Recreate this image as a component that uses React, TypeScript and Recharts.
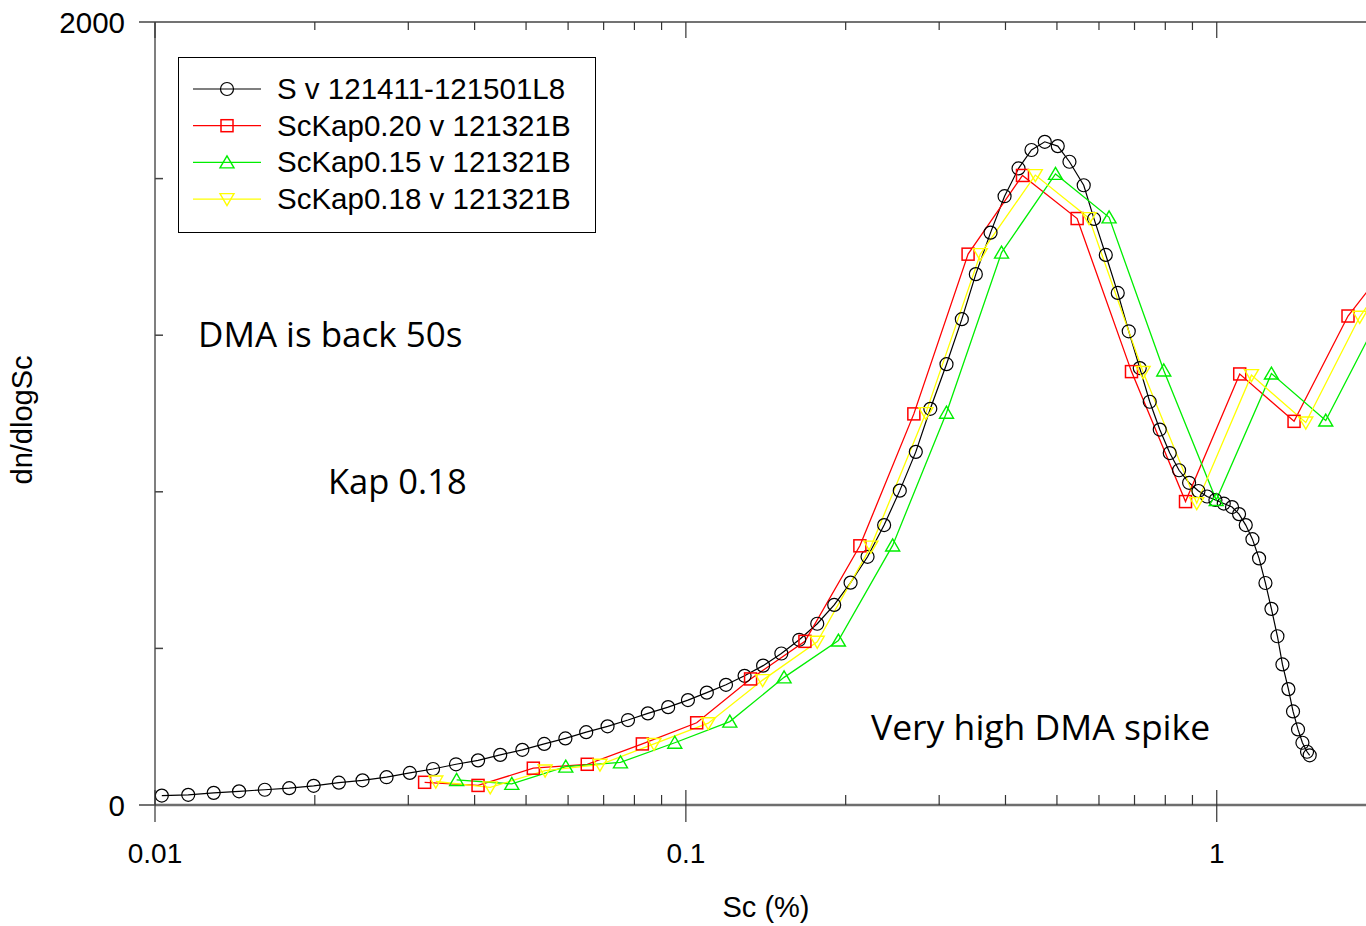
import { LineChart, Line, XAxis, YAxis, Legend, Customized } from 'recharts';

const S_X = [0.0103, 0.01155, 0.0129, 0.0144, 0.0161, 0.0179, 0.0199, 0.0222, 0.0246, 0.0273, 0.0302, 0.0334, 0.0369, 0.0406, 0.0447, 0.0492, 0.0541, 0.0593, 0.0649, 0.0712, 0.0778, 0.0848, 0.0926, 0.1009, 0.1095, 0.119, 0.129, 0.1398, 0.1513, 0.1635, 0.1768, 0.1903, 0.2043, 0.2199, 0.2363, 0.2529, 0.2711, 0.2887, 0.3097, 0.331, 0.3517, 0.3749, 0.3984, 0.4233, 0.4477, 0.4743, 0.5018, 0.5279, 0.5616, 0.5873, 0.618, 0.6509, 0.6827, 0.7161, 0.7478, 0.781, 0.8156, 0.8492, 0.887, 0.9238, 0.9588, 0.9943, 1.0309, 1.0686, 1.1016, 1.1341, 1.1674, 1.2015, 1.2352, 1.2677, 1.3011, 1.3296, 1.3646, 1.3922, 1.4227, 1.4501, 1.4794, 1.4966];
const S_Y = [24, 26, 31, 35, 39, 43, 49, 57, 63, 71, 82, 92, 104, 114, 128, 141, 156, 170, 186, 201, 217, 234, 250, 268, 287, 307, 330, 356, 387, 422, 463, 511, 568, 634, 715, 803, 902, 1012, 1126, 1241, 1356, 1462, 1555, 1626, 1673, 1694, 1683, 1643, 1583, 1497, 1405, 1308, 1210, 1116, 1030, 959, 899, 855, 823, 802, 788, 779, 770, 761, 743, 715, 679, 630, 567, 501, 431, 359, 296, 239, 193, 159, 136, 127];

const K20_X = [0.0322, 0.0406, 0.0516, 0.0652, 0.0828, 0.1048, 0.1324, 0.1676, 0.2127, 0.2688, 0.3401, 0.4306, 0.5458, 0.6909, 0.8733, 1.1048, 1.3984, 1.7671, 2.2356];
const K20_Y = [58, 50, 94, 104, 156, 210, 322, 418, 662, 999, 1407, 1608, 1498, 1107, 775, 1101, 980, 1249, 1426];

const K15_X = [0.037, 0.047, 0.0594, 0.0753, 0.0953, 0.121, 0.1531, 0.1938, 0.2452, 0.3097, 0.3932, 0.4969, 0.6269, 0.7947, 0.9978, 1.2677, 1.6044, 2.03];
const K15_Y = [64, 54, 98, 109, 159, 213, 326, 420, 663, 1002, 1411, 1612, 1501, 1110, 779, 1102, 982, 1250];

const K18_X = [0.0338, 0.0428, 0.0543, 0.0689, 0.0871, 0.1102, 0.1395, 0.1768, 0.2231, 0.2831, 0.3586, 0.4552, 0.5747, 0.7265, 0.9169, 1.1625, 1.4714, 1.8591, 2.3496];
const K18_Y = [60, 45, 88, 103, 156, 209, 319, 417, 660, 1001, 1407, 1609, 1499, 1106, 771, 1098, 977, 1247, 1443];

const SERIES_NAMES = ['S v 121411-121501L8', 'ScKap0.20 v 121321B', 'ScKap0.15 v 121321B', 'ScKap0.18 v 121321B'];

const X_MAJOR = [0.01, 0.1, 1];
const X_MAJOR_LABELS = ['0.01', '0.1', '1'];
const X_MINOR = [0.02, 0.03, 0.04, 0.05, 0.06, 0.07, 0.08, 0.09, 0.2, 0.3, 0.4, 0.5, 0.6, 0.7, 0.8, 0.9, 2];
const Y_TICKS = [0, 400, 800, 1200, 1600, 2000];
const Y_LABELED = [0, 2000];

const zip = (xs: number[], ys: number[]) => xs.map((x, i) => ({ x, y: ys[i] }));
const sData = zip(S_X, S_Y);
const k20Data = zip(K20_X, K20_Y);
const k15Data = zip(K15_X, K15_Y);
const k18Data = zip(K18_X, K18_Y);

const ARIAL = '"Liberation Sans", Arial, sans-serif';
const CALIBRI = '"Open Sans", "Noto Sans", sans-serif';

type Shape = 'circle' | 'square' | 'up' | 'down';

function marker(shape: Shape, cx: number, cy: number, color: string, key?: string) {
  if (shape === 'circle')
    return <circle key={key} cx={cx} cy={cy} r={6.5} fill="none" stroke={color} strokeWidth={1.2} />;
  if (shape === 'square')
    return <rect key={key} x={cx - 6} y={cy - 6} width={12} height={12} fill="none" stroke={color} strokeWidth={1.5} />;
  if (shape === 'up')
    return <polygon key={key} points={`${cx},${cy - 6.5} ${cx - 7},${cy + 5.5} ${cx + 7},${cy + 5.5}`} fill="none" stroke={color} strokeWidth={1.4} />;
  return <polygon key={key} points={`${cx - 7},${cy - 5.5} ${cx + 7},${cy - 5.5} ${cx},${cy + 6.5}`} fill="none" stroke={color} strokeWidth={1.4} />;
}

const dotFor = (shape: Shape, color: string) => (p: any) => {
  if (p.cx == null || p.cy == null) return <g key={`n-${p.index}`} />;
  return marker(shape, p.cx, p.cy, color, `${shape}-${p.index}`);
};

const LEGEND_ITEMS: { shape: Shape; color: string }[] = [
  { shape: 'circle', color: '#000000' },
  { shape: 'square', color: '#ff0000' },
  { shape: 'up', color: '#00ee00' },
  { shape: 'down', color: '#ffff00' },
];

function LegendBox() {
  return (
    <div style={{ width: 418, height: 176, border: '1.5px solid #000', boxSizing: 'border-box', background: '#fff' }}>
      <svg width={416} height={174}>
        {LEGEND_ITEMS.map((it, i) => {
          const y = 31 + i * 36.7;
          return (
            <g key={i}>
              <line x1={14} x2={82} y1={y} y2={y} stroke={it.color} strokeWidth={1.2} />
              {marker(it.shape, 48, y, it.color)}
              <text x={98} y={y + 10} fontFamily={ARIAL} fontSize={29.5} fill="#000">{SERIES_NAMES[i]}</text>
            </g>
          );
        })}
      </svg>
    </div>
  );
}

function BottomTick(props: any) {
  const { x, y, payload } = props;
  const idx = X_MAJOR.indexOf(payload.value);
  if (idx >= 0) {
    return (
      <g>
        <line x1={x} x2={x} y1={y - 15} y2={y + 17} stroke="#333" strokeWidth={1.2} />
        <text x={x} y={y + 58} textAnchor="middle" fontFamily={ARIAL} fontSize={28} fill="#000">{X_MAJOR_LABELS[idx]}</text>
      </g>
    );
  }
  return <line x1={x} x2={x} y1={y - 10} y2={y} stroke="#333" strokeWidth={1.2} />;
}

function TopTick(props: any) {
  const { x, y, payload } = props;
  const major = X_MAJOR.includes(payload.value);
  return <line x1={x} x2={x} y1={y} y2={y + (major ? 16 : 8)} stroke="#333" strokeWidth={1.2} />;
}

function LeftTick(props: any) {
  const { x, y, payload } = props;
  if (Y_LABELED.includes(payload.value)) {
    return (
      <g>
        <line x1={x - 16} x2={x} y1={y} y2={y} stroke="#444" strokeWidth={1.5} />
        <text x={x - 30} y={y + 11} textAnchor="end" fontFamily={ARIAL} fontSize={29.5} fill="#000">{payload.value}</text>
      </g>
    );
  }
  return <line x1={x} x2={x + 8} y1={y} y2={y} stroke="#444" strokeWidth={1.5} />;
}

function Notes() {
  return (
    <g>
      <text x={32} y={420} transform="rotate(-90, 32, 420)" textAnchor="middle" fontFamily={ARIAL} fontSize={29} fill="#000">dn/dlogSc</text>
      <text x={766} y={917} textAnchor="middle" fontFamily={ARIAL} fontSize={29} fill="#000">Sc (%)</text>
      <text x={198} y={347} fontFamily={CALIBRI} fontSize={35} fill="#000">DMA is back 50s</text>
      <text x={328} y={494} fontFamily={CALIBRI} fontSize={34.5} fill="#000">Kap 0.18</text>
      <text x={871} y={740} fontFamily={CALIBRI} fontSize={35.5} fill="#000">Very high DMA spike</text>
    </g>
  );
}

export default function App() {
  return (
    <div style={{ position: 'absolute', left: 0, top: 0, width: 1366, height: 926, overflow: 'hidden', background: '#fff' }}>
      <LineChart width={1440} height={926} margin={{ top: 12, right: 12, bottom: 81, left: 115 }}>
        <XAxis
          dataKey="x"
          type="number"
          scale="log"
          domain={[0.01, 2.5]}
          allowDataOverflow
          ticks={[...X_MAJOR, ...X_MINOR]}
          interval={0}
          height={40}
          tickSize={0}
          tickMargin={0}
          tickLine={false}
          tick={<BottomTick />}
          axisLine={{ stroke: '#6e6e6e', strokeWidth: 2.5 }}
        />
        <XAxis
          xAxisId="top"
          orientation="top"
          dataKey="x"
          type="number"
          scale="log"
          domain={[0.01, 2.5]}
          allowDataOverflow
          ticks={[...X_MAJOR, ...X_MINOR]}
          interval={0}
          height={10}
          tickSize={0}
          tickMargin={0}
          tickLine={false}
          tick={<TopTick />}
          axisLine={{ stroke: '#444', strokeWidth: 1.5 }}
        />
        <YAxis
          type="number"
          domain={[0, 2000]}
          ticks={Y_TICKS}
          interval={0}
          width={40}
          tickSize={0}
          tickMargin={0}
          tickLine={false}
          tick={<LeftTick />}
          axisLine={{ stroke: '#555', strokeWidth: 1.5 }}
        />
        <Line data={sData} dataKey="y" type="linear" stroke="#000" strokeWidth={1.2} dot={dotFor('circle', '#000')} activeDot={false} isAnimationActive={false} name={SERIES_NAMES[0]} />
        <Line data={k20Data} dataKey="y" type="linear" stroke="#ff0000" strokeWidth={1.3} dot={dotFor('square', '#ff0000')} activeDot={false} isAnimationActive={false} name={SERIES_NAMES[1]} />
        <Line data={k15Data} dataKey="y" type="linear" stroke="#00ee00" strokeWidth={1.3} dot={dotFor('up', '#00ee00')} activeDot={false} isAnimationActive={false} name={SERIES_NAMES[2]} />
        <Line data={k18Data} dataKey="y" type="linear" stroke="#ffff00" strokeWidth={1.3} dot={dotFor('down', '#ffff00')} activeDot={false} isAnimationActive={false} name={SERIES_NAMES[3]} />
        <Legend
          layout="vertical"
          align="center"
          verticalAlign="middle"
          content={() => <LegendBox />}
          wrapperStyle={{ position: 'absolute', left: 178, top: 57, width: 418, height: 176 }}
        />
        <Customized component={Notes} />
      </LineChart>
    </div>
  );
}
